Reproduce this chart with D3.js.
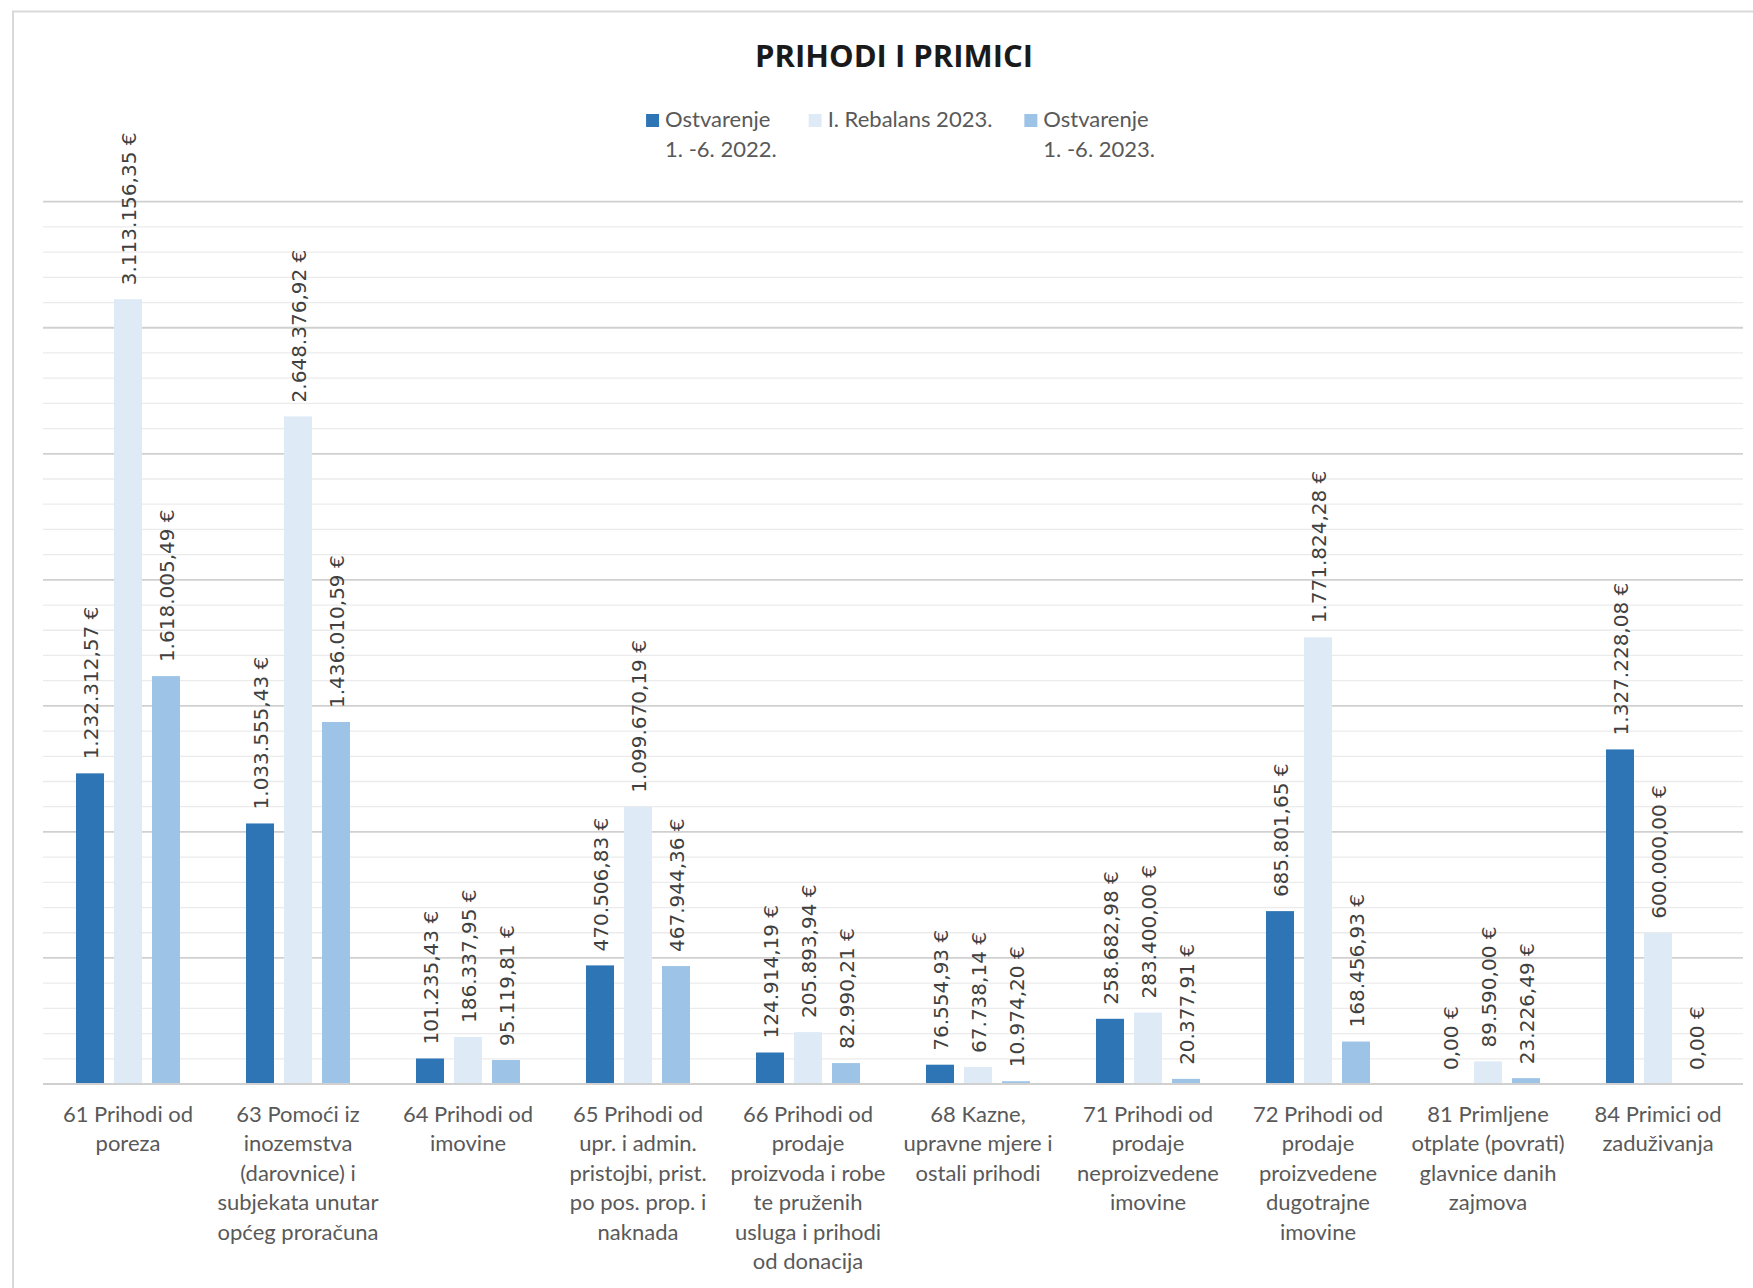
<!DOCTYPE html>
<html>
<head>
<meta charset="utf-8">
<title>Prihodi i primici</title>
<script src="https://cdn.jsdelivr.net/npm/d3@7"></script>
<style>
  body { margin: 0; background: #ffffff; }
  svg { display: block; }
</style>
</head>
<body>
<svg id="chart"></svg>
<script>
// categories, one entry per group, split into the lines shown under the axis
var categories = [
  ["61 Prihodi od", "poreza"],
  ["63 Pomoći iz", "inozemstva", "(darovnice) i", "subjekata unutar", "općeg proračuna"],
  ["64 Prihodi od", "imovine"],
  ["65 Prihodi od", "upr. i admin.", "pristojbi, prist.", "po pos. prop. i", "naknada"],
  ["66 Prihodi od", "prodaje", "proizvoda i robe", "te pruženih", "usluga i prihodi", "od donacija"],
  ["68 Kazne,", "upravne mjere i", "ostali prihodi"],
  ["71 Prihodi od", "prodaje", "neproizvedene", "imovine"],
  ["72 Prihodi od", "prodaje", "proizvedene", "dugotrajne", "imovine"],
  ["81 Primljene", "otplate (povrati)", "glavnice danih", "zajmova"],
  ["84 Primici od", "zaduživanja"]
];

var seriesNames = [
  ["Ostvarenje", "1. -6. 2022."],
  ["I. Rebalans 2023."],
  ["Ostvarenje", "1. -6. 2023."]
];

var ostvarenje2022 = [1232312.57, 1033555.43, 101235.43, 470506.83, 124914.19, 76554.93, 258682.98, 685801.65, 0.00, 1327228.08];
var rebalans2023 = [3113156.35, 2648376.92, 186337.95, 1099670.19, 205893.94, 67738.14, 283400.00, 1771824.28, 89590.00, 600000.00];
var ostvarenje2023 = [1618005.49, 1436010.59, 95119.81, 467944.36, 82990.21, 10974.20, 20377.91, 168456.93, 23226.49, 0.00];

var yMax = 3500000;

var colors = ["#2e75b6", "#deebf7", "#9dc3e6"];

var screen = { width: 1753, height: 1288 };
var margins = { top: 201.7, bottom: 204, left: 43, right: 10 };

var svg = d3.select("#chart")
  .attr("width", screen.width)
  .attr("height", screen.height);

// outer chart frame (right and bottom sides run off the picture)
svg.append("rect")
  .attr("x", 13)
  .attr("y", 11.5)
  .attr("width", screen.width + 20)
  .attr("height", screen.height + 20)
  .attr("fill", "#ffffff")
  .attr("stroke", "#d9d9d9")
  .attr("stroke-width", 2);

var baseline = screen.height - margins.bottom;
var plotRight = screen.width - margins.right;

var codes = categories.map(function(c) { return c[0].split(" ")[0]; });
var series = [ostvarenje2022, rebalans2023, ostvarenje2023];

var x0 = d3.scaleBand()
  .domain(codes)
  .range([margins.left, plotRight])
  .padding(0);

var x1 = d3.scaleBand()
  .domain([0, 1, 2])
  .range([0, x0.bandwidth()])
  .paddingInner(0.263)
  .paddingOuter(0.868);

var yScale = d3.scaleLinear()
  .domain([0, yMax])
  .range([baseline, margins.top]);

// gridlines, minor every 100.000 and major every 500.000
var grid = svg.append("g").classed("grid", true);
grid.selectAll("line")
  .data(yScale.ticks(35))
  .enter()
  .append("line")
  .attr("x1", margins.left)
  .attr("x2", plotRight)
  .attr("y1", function(d) { return yScale(d); })
  .attr("y2", function(d) { return yScale(d); })
  .attr("stroke", function(d) { return d % 500000 === 0 ? "#d0d0d0" : "#ebebeb"; })
  .attr("stroke-width", function(d) { return d % 500000 === 0 ? 1.8 : 1.3; });

// bars
var locale = d3.formatLocale({ decimal: ",", thousands: ".", grouping: [3], currency: ["", " €"] });
var money = locale.format(",.2f");

var groups = svg.append("g").classed("barLand", true)
  .selectAll("g")
  .data(codes)
  .enter()
  .append("g")
  .attr("transform", function(d) { return "translate(" + x0(d) + ",0)"; });

var cells = groups.selectAll("g.cell")
  .data(function(d, i) {
    return series.map(function(s, k) { return { k: k, value: s[i] }; });
  })
  .enter()
  .append("g")
  .classed("cell", true);

cells.append("rect")
  .attr("x", function(d) { return x1(d.k); })
  .attr("y", function(d) { return yScale(d.value); })
  .attr("width", x1.bandwidth())
  .attr("height", function(d) { return baseline - yScale(d.value); })
  .attr("fill", function(d) { return colors[d.k]; });

cells.append("text")
  .attr("transform", function(d) {
    return "translate(" + (x1(d.k) + x1.bandwidth() / 2 + 1) + "," + (yScale(d.value) - 14) + ") rotate(-90)";
  })
  .attr("dy", "0.36em")
  .attr("text-anchor", "start")
  .attr("font-family", "DejaVu Sans, sans-serif")
  .attr("font-size", "20px")
  .attr("fill", "#404040")
  .text(function(d) { return money(d.value) + " €"; });

// baseline
svg.append("line")
  .attr("x1", margins.left)
  .attr("x2", plotRight)
  .attr("y1", baseline)
  .attr("y2", baseline)
  .attr("stroke", "#d0d0d0")
  .attr("stroke-width", 1.8);

// category labels
var catLabels = svg.append("g").classed("xLabels", true)
  .selectAll("text")
  .data(categories)
  .enter()
  .append("text")
  .attr("x", function(d, i) { return x0(codes[i]) + x0.bandwidth() / 2; })
  .attr("y", baseline + 38)
  .attr("text-anchor", "middle")
  .attr("font-family", "Lato, sans-serif")
  .attr("font-size", "22px")
  .attr("fill", "#595959");

catLabels.selectAll("tspan")
  .data(function(d) { return d; })
  .enter()
  .append("tspan")
  .attr("x", function() { return d3.select(this.parentNode).attr("x"); })
  .attr("dy", function(d, i) { return i === 0 ? 0 : 29.4; })
  .text(function(d) { return d; });

// title
svg.append("text")
  .attr("x", 894)
  .attr("y", 67)
  .attr("text-anchor", "middle")
  .attr("font-family", "Open Sans, sans-serif")
  .attr("font-weight", "bold")
  .attr("font-size", "31px")
  .attr("fill", "#1a1a1a")
  .text("PRIHODI I PRIMICI");

// legend
var legend = svg.append("g").classed("legend", true);
var items = legend.selectAll("g")
  .data(seriesNames)
  .enter()
  .append("g");

items.append("rect")
  .attr("x", 0)
  .attr("y", 114)
  .attr("width", 13)
  .attr("height", 13)
  .attr("fill", function(d, i) { return colors[i]; });

var legendText = items.append("text")
  .attr("x", 19)
  .attr("y", 127)
  .attr("font-family", "Lato, sans-serif")
  .attr("font-size", "22px")
  .attr("fill", "#595959");

legendText.selectAll("tspan")
  .data(function(d) { return d; })
  .enter()
  .append("tspan")
  .attr("x", 19)
  .attr("dy", function(d, i) { return i === 0 ? 0 : 30; })
  .text(function(d) { return d; });

// lay items out side by side and centre them under the title
var offsets = [];
var pos = 0;
items.each(function() {
  offsets.push(pos);
  pos += this.getBBox().width + 32;
});
var total = pos - 32;
var start = 900.5 - total / 2;
items.attr("transform", function(d, i) { return "translate(" + (start + offsets[i]) + ",0)"; });
</script>
</body>
</html>
